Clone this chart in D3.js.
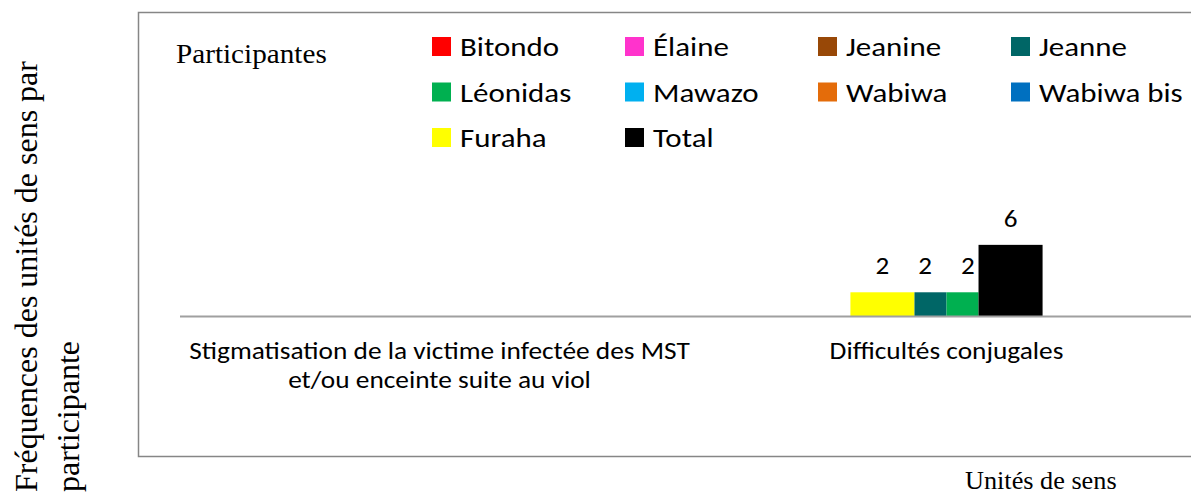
<!DOCTYPE html>
<html lang="fr">
<head>
<meta charset="utf-8">
<script src="https://d3js.org/d3.v7.min.js"></script>
<style>
  body { margin: 0; background: #fff; }
  .sans { font-family: Carlito, Calibri, "Open Sans", sans-serif; fill: #000; }
  .serif { font-family: "Liberation Serif", "Times New Roman", serif; fill: #000; }
</style>
</head>
<body>
<svg id="chart" width="1191" height="494"></svg>
<script>
// categories (each one split on its display lines)
const categories = ["Stigmatisation", "Difficultés conjugales"];
const categoryLines = [
  ["Stigmatisation de la victime infectée des MST", "et/ou enceinte suite au viol"],
  ["Difficultés conjugales"]
];

// series, in legend order
const participants = ["Bitondo", "Élaine", "Jeanine", "Jeanne", "Léonidas",
  "Mawazo", "Wabiwa", "Wabiwa bis", "Furaha", "Total"];
const colors = ["#ff0000", "#ff33cc", "#984807", "#006666", "#00b050",
  "#00b0f0", "#e46c0a", "#0070c0", "#ffff00", "#000000"];

// values per category, same order as participants
const stigmatisation = [0, 0, 0, 0, 0, 0, 0, 0, 0, 0];
const difficultes    = [0, 0, 0, 2, 2, 0, 0, 0, 2, 6];

// order of the bars inside a cluster
const clusterOrder = ["Bitondo", "Élaine", "Jeanine", "Mawazo", "Wabiwa",
  "Wabiwa bis", "Furaha", "Jeanne", "Léonidas", "Total"];

// the source picture is a bit stretched sideways
const sx = 1.13, sxSerif = 1.05;

const svg = d3.select("#chart");

// chart frame (runs off the right side, as in the source)
svg.append("path")
  .attr("d", "M1200,12.5 H138.5 V456.5 H1200")
  .attr("fill", "none")
  .attr("stroke", "#868686")
  .attr("stroke-width", 1.5);

const x = d3.scaleBand().domain(categories).range([186, 1200]);
const y = d3.scaleLinear().domain([0, 7]).range([316, 233]);
const color = d3.scaleOrdinal(participants, colors);

const table = categories.map((c, i) => {
  const vals = [stigmatisation, difficultes][i];
  const byName = new Map(participants.map((p, j) => [p, vals[j]]));
  return { cat: c, bars: clusterOrder.filter(p => byName.get(p) > 0).map(p => ({ name: p, value: byName.get(p) })) };
});

const clusterW = x.bandwidth() * 0.379;

table.forEach(d => {
  const keys = d.bars.map(b => b.name);
  if (!keys.length) return;
  const inner = d3.scaleBand().domain(keys).range([-clusterW / 2, clusterW / 2]).paddingOuter(1);
  const lab = d3.scalePoint().domain(keys).range([-clusterW / 2 + inner.step(), clusterW / 2 - inner.step()]);
  const cx = x(d.cat) + x.bandwidth() / 2;
  const g = svg.append("g").attr("transform", `translate(${cx},0)`);
  const last = keys.length - 1;

  g.selectAll("rect")
    .data(d.bars)
    .join("rect")
    .attr("x", (b, i) => i === 0 ? -clusterW / 2 : inner(b.name))
    .attr("width", (b, i) => {
      const x0 = i === 0 ? -clusterW / 2 : inner(b.name);
      const x1 = i === last ? clusterW / 2 : inner(b.name) + inner.bandwidth();
      return x1 - x0;
    })
    .attr("y", b => y(b.value))
    .attr("height", b => y(0) - y(b.value))
    .attr("fill", b => color(b.name));

  g.selectAll("text")
    .data(d.bars)
    .join("text")
    .attr("class", "sans")
    .attr("transform", b => `translate(${lab(b.name)},${y(b.value) - 18}) scale(${sx},1)`)
    .attr("text-anchor", "middle")
    .style("font-size", "24px")
    .text(b => b.value);
});

// category axis line
svg.append("line")
  .attr("x1", 180).attr("x2", 1200)
  .attr("y1", y(0) + 0.5).attr("y2", y(0) + 0.5)
  .attr("stroke", "#a0a0a0")
  .attr("stroke-width", 2);

// category labels
categoryLines.forEach((lines, i) => {
  const t = svg.append("text")
    .attr("class", "sans")
    .attr("text-anchor", "middle")
    .attr("transform", `translate(${x(categories[i]) + x.bandwidth() / 2},359) scale(${sx},1)`)
    .style("font-size", "24.2px");
  lines.forEach((l, k) => {
    t.append("tspan")
      .attr("x", 0)
      .attr("y", k * 29)
      .text(l);
  });
});

// legend
svg.append("text")
  .attr("class", "serif")
  .attr("transform", `translate(176,63) scale(${sxSerif},1)`)
  .style("font-size", "27.8px")
  .text("Participantes");

const leg = svg.append("g")
  .selectAll("g")
  .data(participants)
  .join("g")
  .attr("transform", (d, i) => `translate(${432 + (i % 4) * 193},${37 + Math.floor(i / 4) * 45.5})`);

leg.append("rect")
  .attr("width", 19).attr("height", 19)
  .attr("fill", d => color(d));

leg.append("text")
  .attr("class", "sans")
  .attr("transform", `translate(28,19) scale(${sx},1)`)
  .style("font-size", "27.4px")
  .text(d => d);

// axis titles
svg.append("text")
  .attr("class", "serif")
  .attr("transform", `translate(965,489) scale(${sxSerif},1)`)
  .style("font-size", "25px")
  .text("Unités de sens");

const yTitle = svg.append("text")
  .attr("class", "serif")
  .attr("transform", "translate(0,492) rotate(-90)")
  .style("font-size", "32px");
["Fréquences des unités de sens par", "participante"].forEach((l, k) => {
  yTitle.append("tspan").attr("x", 0).attr("y", 37 + k * 42).text(l);
});
</script>
</body>
</html>
